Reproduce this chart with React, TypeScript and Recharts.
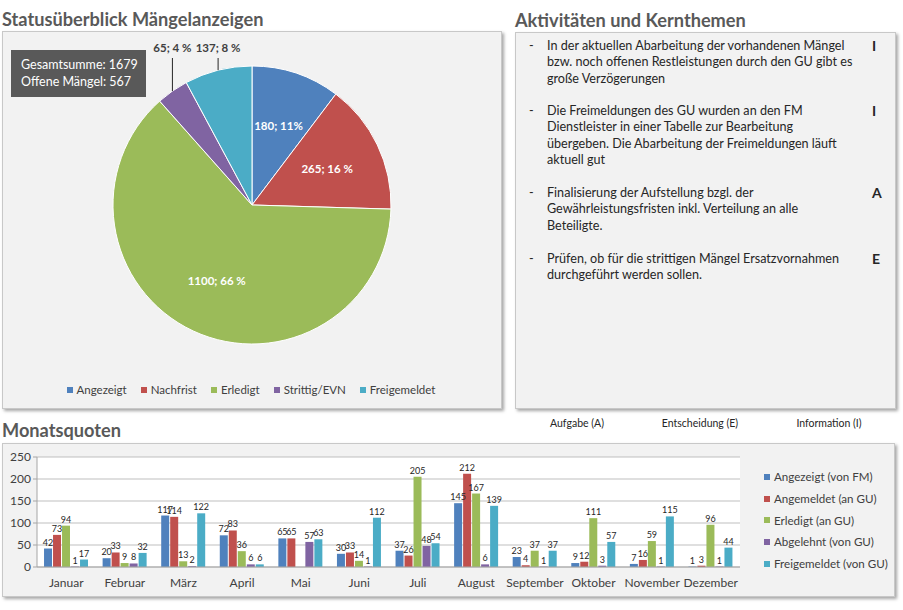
import React from 'react';
import { PieChart, Pie, Cell, Legend, BarChart, Bar, XAxis, YAxis, CartesianGrid, LabelList } from 'recharts';

// ---- Pie data ----
const statusNames = ['Angezeigt', 'Nachfrist', 'Erledigt', 'Strittig/EVN', 'Freigemeldet'];
const statusValues = [180, 265, 1100, 65, 137];
const statusLabels = ['180; 11%', '265; 16 %', '1100; 66 %', '65; 4 %', '137; 8 %'];
const gesamtsumme = 1679;
const offeneMaengel = 567;

// ---- Bar data ----
const months = ['Januar', 'Februar', 'März', 'April', 'Mai', 'Juni', 'Juli', 'August', 'September', 'Oktober', 'November', 'Dezember'];
const angezeigt = [42, 20, 117, 72, 65, 30, 37, 145, 23, 9, 7, 1];
const angemeldet = [73, 33, 114, 83, 65, 33, 26, 212, 4, 12, 16, 3];
const erledigt = [94, 9, 13, 36, 0, 14, 205, 167, 37, 111, 59, 96];
const abgelehnt = [1, 8, 2, 6, 57, 1, 48, 6, 1, 3, 1, 1];
const freigemeldet = [17, 32, 122, 6, 63, 112, 54, 139, 37, 57, 115, 44];
const seriesNames = ['Angezeigt (von FM)', 'Angemeldet (an GU)', 'Erledigt (an GU)', 'Abgelehnt (von GU)', 'Freigemeldet (von GU)'];
const yTicks = [0, 50, 100, 150, 200, 250];

// ---- Activities ----
const activities = [
  { lines: ['In der aktuellen Abarbeitung der vorhandenen Mängel', 'bzw. noch offenen Restleistungen durch den GU gibt es', 'große Verzögerungen'], tag: 'I' },
  { lines: ['Die Freimeldungen des GU wurden an den FM', 'Dienstleister in einer Tabelle zur Bearbeitung', 'übergeben. Die Abarbeitung der Freimeldungen läuft', 'aktuell gut'], tag: 'I' },
  { lines: ['Finalisierung der Aufstellung bzgl. der', 'Gewährleistungsfristen inkl. Verteilung an alle', 'Beteiligte.'], tag: 'A' },
  { lines: ['Prüfen, ob für die strittigen Mängel Ersatzvornahmen', 'durchgeführt werden sollen.'], tag: 'E' },
];
const tagLegend = ['Aufgabe (A)', 'Entscheidung (E)', 'Information (I)'];

const COLORS = ['#4F81BD', '#C0504D', '#9BBB59', '#8064A2', '#4BACC6'];
const FONT = 'Lato, "Open Sans", sans-serif';
const TEXT = '#404040';

const pieData = statusNames.map((name, i) => ({ name, value: statusValues[i], label: statusLabels[i] }));
const barData = months.map((m, i) => ({
  month: m,
  s0: angezeigt[i],
  s1: angemeldet[i],
  s2: erledigt[i],
  s3: abgelehnt[i],
  s4: freigemeldet[i],
}));

const panelStyle: React.CSSProperties = {
  position: 'absolute',
  background: '#f2f2f2',
  border: '1px solid #c8c8c8',
  boxShadow: '2px 2px 3px rgba(0,0,0,0.35)',
  boxSizing: 'border-box',
};

const titleStyle: React.CSSProperties = {
  position: 'absolute',
  fontFamily: FONT,
  fontWeight: 700,
  fontSize: 18.2,
  color: '#595959',
  whiteSpace: 'nowrap',
  lineHeight: '20px',
};

const RAD = Math.PI / 180;
const renderPieLabel = (props: any) => {
  const { cx, cy, midAngle, outerRadius, index } = props;
  const text = statusLabels[index];
  if (index >= 3) {
    const ex = cx + outerRadius * Math.cos(-midAngle * RAD);
    const ey = cy + outerRadius * Math.sin(-midAngle * RAD);
    const ly = cy - outerRadius - 8;
    return (
      <g>
        <line x1={ex} y1={ey} x2={ex} y2={ly} stroke="#262626" strokeWidth={1} />
        <text x={ex} y={ly - 6} textAnchor="middle" fill={TEXT} fontSize={11.5} fontWeight={700} fontFamily={FONT}>
          {text}
        </text>
      </g>
    );
  }
  const r = outerRadius * 0.6;
  const x = cx + r * Math.cos(-midAngle * RAD);
  const y = cy + r * Math.sin(-midAngle * RAD);
  return (
    <text x={x} y={y} textAnchor="middle" dominantBaseline="central" fill="#ffffff" fontSize={11.5} fontWeight={700} fontFamily={FONT}>
      {text}
    </text>
  );
};

const PieLegendContent = (props: any) => {
  const { payload } = props;
  return (
    <div style={{ width: 498, display: 'flex', justifyContent: 'center', gap: 14, fontFamily: FONT, fontSize: 11.5, color: TEXT }}>
      {(payload || []).map((p: any, i: number) => (
        <div key={i} style={{ display: 'flex', alignItems: 'center', whiteSpace: 'nowrap' }}>
          <span style={{ display: 'inline-block', width: 6, height: 6, background: p.color, marginRight: 4 }} />
          {p.value}
        </div>
      ))}
    </div>
  );
};

const BarLegendContent = (props: any) => {
  const { payload } = props;
  return (
    <div style={{ fontFamily: FONT, fontSize: 11.6, color: TEXT }}>
      {(payload || []).map((p: any, i: number) => (
        <div key={i} style={{ display: 'flex', alignItems: 'center', height: 21.7, whiteSpace: 'nowrap' }}>
          <span style={{ display: 'inline-block', width: 6, height: 6, background: p.color, marginRight: 4 }} />
          {p.value}
        </div>
      ))}
    </div>
  );
};

const pieOrder = (item: any) => statusNames.indexOf(item.value);
const barOrder = (item: any) => seriesNames.indexOf(item.value);

export default function App() {
  return (
    <div style={{ position: 'absolute', left: 0, top: 0, width: 903, height: 610, background: '#ffffff', overflow: 'hidden', fontFamily: FONT }}>
      {/* Left: pie */}
      <div style={{ ...titleStyle, left: 2, top: 9 }}>Statusüberblick Mängelanzeigen</div>
      <div style={{ ...panelStyle, left: 2, top: 31, width: 500, height: 378 }} />
      <div style={{ position: 'absolute', left: 2, top: 31 }}>
        <PieChart width={500} height={378} margin={{ top: 0, right: 0, bottom: 0, left: 0 }}>
          <Pie
            data={pieData}
            dataKey="value"
            nameKey="name"
            cx={250}
            cy={174}
            outerRadius={139}
            startAngle={90}
            endAngle={-270}
            stroke="#ffffff"
            strokeWidth={1}
            label={renderPieLabel}
            labelLine={false}
            isAnimationActive={false}
          >
            {pieData.map((d, i) => (
              <Cell key={d.name} fill={COLORS[i]} />
            ))}
          </Pie>
          <Legend
            layout="horizontal"
            align="center"
            verticalAlign="middle"
            itemSorter={pieOrder}
            wrapperStyle={{ left: 0, top: 352, width: 498 }}
            content={PieLegendContent}
          />
        </PieChart>
      </div>
      <div
        style={{
          position: 'absolute',
          left: 11,
          top: 50,
          width: 135,
          height: 47,
          background: '#595959',
          color: '#ffffff',
          fontFamily: FONT,
          fontSize: 12.5,
          lineHeight: '17px',
          padding: '6px 0 0 10px',
          boxSizing: 'border-box',
          whiteSpace: 'nowrap',
        }}
      >
        <div>Gesamtsumme: {gesamtsumme}</div>
        <div>Offene Mängel: {offeneMaengel}</div>
      </div>

      {/* Right: activities */}
      <div style={{ ...titleStyle, left: 515, top: 10 }}>Aktivitäten und Kernthemen</div>
      <div style={{ ...panelStyle, left: 515, top: 32, width: 381, height: 377 }} />
      {activities.map((a, i) => {
        const tops = [38, 103, 185, 251];
        return (
          <div key={i} style={{ position: 'absolute', left: 529, top: tops[i], fontFamily: FONT, fontSize: 12.6, color: '#262626', lineHeight: '16.3px' }}>
            <span style={{ position: 'absolute', left: 0, top: 0 }}>-</span>
            <div style={{ position: 'absolute', left: 18, top: 0, whiteSpace: 'nowrap' }}>
              {a.lines.map((l, j) => (
                <div key={j}>{l}</div>
              ))}
            </div>
            <span style={{ position: 'absolute', left: 343, top: 0, fontWeight: 700, fontSize: 14 }}>{a.tag}</span>
          </div>
        );
      })}
      {tagLegend.map((t, i) => {
        const centers = [577, 700, 829];
        return (
          <div key={t} style={{ position: 'absolute', left: centers[i] - 60, width: 120, top: 417, textAlign: 'center', fontFamily: FONT, fontSize: 10.5, color: '#262626', whiteSpace: 'nowrap' }}>
            {t}
          </div>
        );
      })}

      {/* Bottom: bar chart */}
      <div style={{ ...titleStyle, left: 2, top: 420 }}>Monatsquoten</div>
      <div style={{ ...panelStyle, left: 2, top: 443, width: 893, height: 154 }} />
      <div style={{ position: 'absolute', left: 2, top: 443 }}>
        <BarChart width={893} height={154} data={barData} margin={{ top: 14, right: 155, bottom: 8, left: 0 }} barCategoryGap="12%" barGap={1}>
          <CartesianGrid vertical={false} stroke="#bfbfbf" fill="#ffffff" />
          <XAxis
            dataKey="month"
            height={22}
            tick={{ fontSize: 12, fill: TEXT, fontFamily: FONT }}
            tickLine={false}
            tickMargin={5}
            axisLine={{ stroke: '#a6a6a6' }}
            interval={0}
          />
          <YAxis
            width={35}
            domain={[0, 250]}
            ticks={yTicks}
            tick={{ fontSize: 12, fill: TEXT, fontFamily: FONT }}
            tickLine={{ stroke: '#a6a6a6' }}
            tickSize={4}
            axisLine={{ stroke: '#a6a6a6' }}
            interval={0}
          />
          {seriesNames.map((name, i) => (
            <Bar key={name} dataKey={`s${i}`} name={name} fill={COLORS[i]} isAnimationActive={false}>
              <LabelList dataKey={`s${i}`} position="top" offset={3} style={{ fontSize: 9, fill: '#262626', fontFamily: FONT }} />
            </Bar>
          ))}
          <Legend layout="vertical" align="center" verticalAlign="middle" itemSorter={barOrder} wrapperStyle={{ left: 762, top: 23 }} content={BarLegendContent} />
        </BarChart>
      </div>
    </div>
  );
}
